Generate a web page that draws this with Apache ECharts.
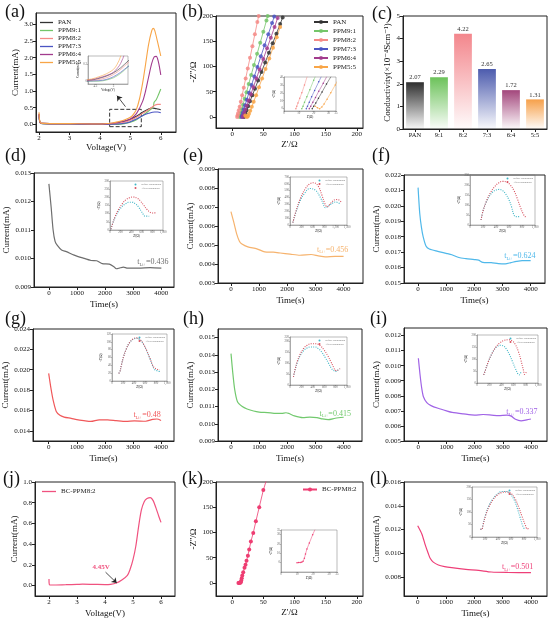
<!DOCTYPE html>
<html>
<head>
<meta charset="utf-8">
<script src="https://cdn.jsdelivr.net/npm/echarts@6/dist/echarts.min.js"></script>
<style>html,body{margin:0;padding:0;background:#fff}#chart{width:550px;height:621px}</style>
</head>
<body>
<div id="chart"></div>
<script>
const FONT = '"Liberation Serif","Times New Roman","DejaVu Serif",serif';

// (a) LSV curves
const lsvNames = ['PAN', 'PPM9:1', 'PPM8:2', 'PPM7:3', 'PPM6:4', 'PPM5:5'];
const lsvColors = ['#333333', '#74c569', '#f58a86', '#4b55c3', '#a23b8d', '#f8a547'];
const lsvPAN = [[2.0,0.3],[2.03,0.06],[2.1,0.03],[3,0.02],[4,0.01],[4.4,0.02],[4.6,0.05],[4.8,0.09],[5.0,0.15],[5.2,0.24],[5.4,0.36],[5.6,0.46],[5.7,0.49],[5.8,0.48],[5.9,0.46],[6.0,0.44]];
const lsv91 = [[2.0,0.25],[2.03,0.05],[2.1,0.02],[3,0.01],[4,0.0],[4.6,0.0],[4.8,0.02],[5.0,0.06],[5.2,0.14],[5.4,0.26],[5.6,0.4],[5.75,0.52],[5.78,0.66],[5.85,0.74],[5.92,0.88],[6.0,1.06]];
const lsv82 = [[2.0,0.3],[2.03,0.06],[2.1,0.03],[3,0.02],[4,0.01],[4.5,0.02],[4.8,0.06],[5.0,0.12],[5.2,0.21],[5.4,0.33],[5.6,0.44],[5.8,0.57],[5.9,0.6],[6.0,0.6]];
const lsv73 = [[2.0,0.28],[2.03,0.05],[2.1,0.02],[3,0.01],[4,0.0],[4.6,0.01],[4.8,0.03],[5.0,0.08],[5.2,0.16],[5.4,0.26],[5.6,0.33],[5.8,0.37],[5.9,0.37],[6.0,0.35]];
const lsv64 = [[2.0,0.32],[2.03,0.06],[2.1,0.03],[3,0.02],[4,0.01],[4.4,0.03],[4.6,0.06],[4.8,0.1],[5.0,0.16],[5.2,0.32],[5.4,0.68],[5.5,1.0],[5.6,1.42],[5.7,1.82],[5.78,2.02],[5.85,2.04],[5.92,1.88],[6.0,1.48]];
const lsv55 = [[2.0,0.36],[2.03,0.07],[2.1,0.03],[3,0.02],[4,0.01],[4.4,0.04],[4.6,0.08],[4.8,0.13],[5.0,0.21],[5.1,0.3],[5.2,0.45],[5.3,0.76],[5.4,1.22],[5.5,1.8],[5.6,2.4],[5.7,2.8],[5.75,2.88],[5.8,2.82],[5.9,2.45],[6.0,2.05]];
const lsvData = [lsvPAN, lsv91, lsv82, lsv73, lsv64, lsv55];

// (b) Nyquist plots
const eisPAN = [[19,0],[20,3],[21.4,7],[23.2,13],[25.6,21],[28.6,31],[32.4,43],[36.6,56],[41.6,72],[47,89],[53,108],[59,127],[65,146],[71,165],[77,184],[81,197]];
const eis91 = [[12,0],[12.8,3],[13.8,8],[15.4,15],[17.4,24],[20,36],[23,49],[26.5,65],[30.5,83],[35,103],[40,125],[45,147],[50,169],[55,191],[57,200]];
const eis82 = [[8,0],[8.6,3],[9.4,7],[10.6,13],[12,20],[13.8,30],[16,43],[18.6,58],[21.6,76],[25,96],[28.6,117],[32.4,140],[36.4,164],[40.4,188],[42.5,200]];
const eis73 = [[15,0],[15.8,3],[17,8],[18.6,15],[20.6,23],[23.4,34],[27,48],[31,63],[35.5,80],[40.5,99],[46,120],[52,142],[58,164],[64,186],[67.5,199]];
const eis64 = [[17,0],[18,3],[19.4,8],[21.2,14],[23.4,22],[26.4,32],[30,45],[34,59],[38.8,76],[44,94],[50,115],[56,136],[62,157],[68,178],[73,196]];
const eis55 = [[21,3],[22.5,1],[24,0],[25.5,2],[27,6],[29,12],[31.5,20],[34.5,30],[38.4,43],[43,59],[48,76],[53.5,95],[59.5,116],[65.5,137],[71.5,158],[77,178]];
const eisData = [eisPAN, eis91, eis82, eis73, eis64, eis55];

// (c) conductivity
const condCats = ['PAN', '9:1', '8:2', '7:3', '6:4', '5:5'];
const condValues = [2.07, 2.29, 4.22, 2.65, 1.72, 1.31];
const condColors = ['#2f2f2f', '#6cc25a', '#f3868c', '#4d5cae', '#a3477c', '#f6a04a'];

// (d)-(i),(l) polarization current vs time
const curD = [[0,0.01262],[80,0.0118],[150,0.0110],[220,0.0106],[300,0.01046],[450,0.0103],[620,0.01024],[900,0.01012],[1200,0.01002],[1500,0.00993],[1700,0.00992],[1900,0.00982],[2150,0.0098],[2300,0.00972],[2400,0.00964],[2500,0.00966],[2650,0.0097],[2800,0.00966],[3200,0.00966],[3600,0.00968],[4000,0.00966]];
const curE = [[0,0.00676],[100,0.0062],[200,0.0056],[300,0.0052],[390,0.00505],[600,0.0049],[920,0.0048],[1200,0.00464],[1500,0.00462],[1750,0.00458],[2100,0.00452],[2450,0.00446],[2850,0.0045],[3100,0.00443],[3350,0.00437],[3700,0.0044],[4000,0.0044]];
const curF = [[0,0.02118],[60,0.0195],[120,0.0186],[180,0.018],[280,0.0174],[400,0.0172],[700,0.01705],[1000,0.01692],[1200,0.01683],[1450,0.01665],[1700,0.01658],[2000,0.01652],[2150,0.01648],[2300,0.01634],[2600,0.01632],[2850,0.01626],[3100,0.01624],[3300,0.01632],[3500,0.0164],[3700,0.01645],[4000,0.01645]];
const curG = [[0,0.01965],[80,0.0182],[160,0.017],[270,0.0159],[400,0.01552],[550,0.01535],[800,0.01522],[1000,0.0151],[1250,0.015],[1500,0.01492],[1800,0.01508],[2100,0.01508],[2400,0.015],[2750,0.01492],[3050,0.01498],[3450,0.01494],[3700,0.01512],[3850,0.01516],[4000,0.01502]];
const curH = [[0,0.01407],[60,0.013],[130,0.012],[230,0.01128],[400,0.011],[570,0.01086],[800,0.01074],[1000,0.01068],[1300,0.01065],[1600,0.0106],[1800,0.0106],[1950,0.01064],[2050,0.0106],[2250,0.01046],[2550,0.01036],[2800,0.01038],[3050,0.01036],[3250,0.01028],[3450,0.01024],[3700,0.01032],[4000,0.01038]];
const curI = [[0,0.01049],[60,0.0094],[120,0.0085],[180,0.00794],[300,0.00755],[450,0.00735],[700,0.00717],[1000,0.007],[1200,0.0069],[1600,0.0068],[2000,0.00672],[2300,0.00676],[2600,0.00672],[2850,0.00668],[3150,0.00672],[3300,0.00665],[3450,0.00644],[3650,0.00634],[3850,0.0064],[4000,0.00646]];
const curL = [[0,0.01231],[150,0.0116],[260,0.01075],[370,0.01],[440,0.00958],[550,0.00925],[730,0.00901],[950,0.00888],[1200,0.00879],[1700,0.00865],[2150,0.00856],[2600,0.00842],[3200,0.00838],[4000,0.00837]];
const tLi = ['0.436', '0.456', '0.624', '0.48', '0.415', '0.337', '0.501'];

// inset Nyquist: before / after polarization
const nyqDB = [[20,5],[50,40],[100,80],[160,115],[220,140],[290,160],[360,170],[420,170],[480,160],[540,140],[590,115],[630,95],[660,85],[700,85],[740,84]];
const nyqDA = [[20,5],[50,40],[100,85],[160,125],[230,160],[300,185],[370,198],[440,202],[510,195],[580,175],[640,150],[700,125],[760,108],[800,104],[840,105],[880,104]];
const nyqEB = [[75,35],[150,175],[255,336],[375,455],[525,532],[675,504],[795,406],[870,315],[930,252],[1020,280],[1125,322],[1200,336],[1320,308]];
const nyqEA = [[75,35],[150,189],[270,385],[405,532],[525,602],[630,616],[750,560],[840,434],[915,315],[975,266],[1080,322],[1200,371],[1290,364],[1365,322]];
const nyqFB = [[170,25],[200,70],[250,115],[300,145],[350,165],[400,175],[450,178],[500,172],[550,155],[600,125],[640,90],[670,55],[700,42],[740,42],[770,42]];
const nyqFA = [[170,25],[200,70],[260,125],[320,165],[380,192],[440,210],[500,218],[560,215],[620,200],[680,170],[730,130],[780,85],[820,55],[850,42],[880,45]];
const nyqGB = [[120,20],[140,22],[170,40],[210,62],[260,82],[320,98],[390,107],[450,109],[510,105],[570,94],[630,77],[690,57],[740,38],[770,30],[820,26],[870,24]];
const nyqGA = [[120,20],[140,22],[170,40],[210,62],[260,82],[320,98],[390,108],[450,110],[510,106],[570,95],[630,78],[690,58],[740,40],[770,34],[820,30],[870,28]];
const nyqHB = [[60,37],[90,70],[130,105],[180,135],[240,158],[300,170],[360,174],[440,174],[500,166],[560,150],[620,125],[680,98],[730,75],[760,68],[800,62],[830,66],[870,75]];
const nyqHA = [[60,37],[90,72],[130,110],[180,142],[240,168],[300,182],[370,189],[460,189],[530,180],[600,160],[660,135],[720,105],[770,78],[790,68],[820,66],[860,72],[880,75]];
const nyqIB = [[110,34],[140,55],[180,85],[230,115],[280,138],[330,152],[380,157],[430,155],[480,142],[530,120],[580,90],[630,60],[670,38],[690,34],[710,40],[730,48]];
const nyqIA = [[110,34],[140,55],[190,92],[250,125],[310,150],[380,168],[450,178],[520,180],[580,175],[630,160],[680,130],[720,95],[760,55],[780,36],[800,42],[820,50]];
const nyqLB = [[130,32],[150,30],[170,50],[210,90],[260,125],[320,152],[390,172],[460,182],[530,182],[590,172],[650,148],[700,112],[740,78],[780,45],[810,30]];
const nyqLA = [[130,32],[150,30],[170,48],[210,86],[260,120],[320,148],[390,168],[460,178],[540,180],[610,172],[670,150],[720,118],[770,82],[820,48],[850,32],[870,34]];

// (j),(k) BC-PPM8:2
const bcLsv = [[2.0,0.065],[2.02,0.008],[2.1,0.006],[2.6,0.009],[3.0,0.012],[3.2,0.014],[3.6,0.012],[4.0,0.01],[4.2,0.013],[4.4,0.025],[4.6,0.055],[4.8,0.1],[4.9,0.16],[5.0,0.25],[5.1,0.38],[5.2,0.57],[5.3,0.73],[5.4,0.81],[5.5,0.84],[5.62,0.85],[5.72,0.82],[5.82,0.75],[5.92,0.67],[6.0,0.61]];
const bcEis = [[10,0],[11,0.1],[12,0.2],[13,0.4],[13.8,1.5],[14.6,4.6],[15.3,9.3],[16.2,14.6],[17.7,21],[19.8,30],[21.4,36],[23,44],[25.2,54],[27.3,66],[30,82],[33.8,99],[38,122],[43.4,150],[50,184],[54.5,202]];

const grid = [], xAxis = [], yAxis = [], series = [], legend = [], title = [];

function addGrid(r, inset) {
  grid.push({
    left: r[0], top: r[1], width: r[2], height: r[3], show: true,
    containLabel: false, outerBoundsMode: 'none',
    borderColor: inset ? '#777' : '#222', borderWidth: inset ? 0.5 : 1,
    backgroundColor: 'rgba(0,0,0,0)'
  });
  return grid.length - 1;
}

function makeAxis(idx, o, inset) {
  const lc = inset ? '#777' : '#222';
  return {
    type: o.type || 'value', gridIndex: idx, data: o.data,
    min: o.min, max: o.max, interval: o.interval, splitNumber: o.split,
    name: o.name || '', nameLocation: 'middle', nameGap: o.gap || 12,
    nameTextStyle: { fontFamily: FONT, fontSize: inset ? 3 : 9, color: '#111' },
    axisLine: { show: true, onZero: false, lineStyle: { color: lc, width: inset ? 0.5 : 1 } },
    axisTick: { show: true, inside: false, length: inset ? 1 : 3, alignWithLabel: true, lineStyle: { color: lc, width: inset ? 0.5 : 1 } },
    axisLabel: {
      fontFamily: FONT, fontSize: inset ? 3 : 7, color: inset ? '#666' : '#111', margin: inset ? 1 : 3,
      formatter: o.fmt, showMinLabel: o.hideMin ? false : null, showMaxLabel: o.hideMax ? false : null
    },
    splitLine: { show: false }
  };
}

function panel(r, xo, yo, inset) {
  const idx = addGrid(r, inset);
  xAxis.push(makeAxis(idx, xo, inset));
  yAxis.push(makeAxis(idx, yo, inset));
  return idx;
}

function addTitle(text, x, y) {
  title.push({ text, left: x, top: y, padding: 0, textStyle: { fontFamily: FONT, fontSize: 18, fontWeight: 'normal', color: '#111' } });
}

const f1 = v => v.toFixed(1);
const f3 = v => v.toFixed(3);
const f0 = v => String(Math.round(v));

// ---------- (a)
addTitle('(a)', 5, 3);
const ga = panel([36, 13, 140, 119],
  { min: 1.9, max: 6.5, split: 5, name: 'Voltage(V)', gap: 11, fmt: f0, hideMin: true, hideMax: true },
  { min: -0.23, max: 3.34, split: 7, name: 'Current(mA)', gap: 14, fmt: f1, hideMin: true, hideMax: true });
lsvNames.forEach((n, i) => {
  const s = {
    type: 'line', name: n, xAxisIndex: ga, yAxisIndex: ga, data: lsvData[i], symbol: 'none', smooth: 0.3,
    lineStyle: { color: lsvColors[i], width: 1.1 }, itemStyle: { color: lsvColors[i] }, z: 3
  };
  if (i === 0) {
    s.markArea = { silent: true, itemStyle: { color: 'rgba(0,0,0,0)', borderColor: '#333', borderWidth: 1, borderType: 'dashed' },
      data: [[{ coord: [4.32, -0.07] }, { coord: [5.36, 0.45] }]] };
    s.markLine = { silent: true, symbol: ['none', 'arrow'], symbolSize: 5, label: { show: false },
      lineStyle: { color: '#222', width: 0.8, type: 'solid' },
      data: [[{ coord: [4.84, 0.53] }, { coord: [4.56, 0.86] }]] };
  }
  series.push(s);
});
legend.push({ data: lsvNames, orient: 'vertical', left: 40, top: 19, icon: 'rect', itemWidth: 13, itemHeight: 1.3, itemGap: 1, padding: 0,
  textStyle: { fontFamily: FONT, fontSize: 7, color: '#222', lineHeight: 7 } });
const gai = panel([88, 56, 40, 28],
  { min: 4.3, max: 5.4, split: 2, name: 'Voltage(V)', gap: 4, hideMin: true, hideMax: true },
  { min: -0.05, max: 0.45, split: 2, name: 'Current(mA)', gap: 5, hideMin: true, hideMax: true }, true);
lsvNames.forEach((n, i) => series.push({ type: 'line', name: 'ia_' + n, xAxisIndex: gai, yAxisIndex: gai, data: lsvData[i],
  symbol: 'none', smooth: 0.3, lineStyle: { color: lsvColors[i], width: 0.6 }, z: 3 }));

// ---------- (b)
addTitle('(b)', 182, 3);
const gb = panel([216, 16, 147, 112],
  { min: -26, max: 210, split: 5, name: "Z'/Ω", gap: 12, fmt: f0, hideMin: true, hideMax: true },
  { min: -22, max: 200, split: 5, name: "-Z''/Ω", gap: 14, fmt: f0, hideMin: true });
lsvNames.forEach((n, i) => series.push({
  type: 'line', name: 'b_' + n, xAxisIndex: gb, yAxisIndex: gb, data: eisData[i], symbol: 'circle', symbolSize: 4,
  lineStyle: { color: lsvColors[i], width: 0.8 }, itemStyle: { color: lsvColors[i], opacity: 0.85 }, z: 3
}));
legend.push({ data: lsvNames.map(n => 'b_' + n), formatter: n => n.slice(2), orient: 'vertical', left: 313, top: 18,
  itemWidth: 14, itemHeight: 5, itemGap: 1, padding: 0, textStyle: { fontFamily: FONT, fontSize: 7, color: '#222', lineHeight: 8 } });
const gbi = panel([284, 77, 52, 34],
  { min: 0, max: 35, split: 4, name: "Z'(Ω)", gap: 4 },
  { min: -3, max: 40, split: 4, name: "-Z''(Ω)", gap: 5, hideMin: true }, true);
lsvNames.forEach((n, i) => series.push({ type: 'line', name: 'bi_' + n, xAxisIndex: gbi, yAxisIndex: gbi, data: eisData[i],
  symbol: 'circle', symbolSize: 1.5, lineStyle: { color: lsvColors[i], width: 0.5 }, itemStyle: { color: lsvColors[i] }, z: 3 }));

// ---------- (c)
addTitle('(c)', 372, 5);
const gc = panel([403, 16, 144, 113],
  { type: 'category', data: condCats },
  { min: 0, max: 5, interval: 1, name: 'Conductivity(×10⁻⁴Scm⁻¹)', gap: 8, fmt: f0 });
xAxis[gc].axisLabel.fontSize = 6.5;
series.push({
  type: 'bar', name: 'cond', xAxisIndex: gc, yAxisIndex: gc, barWidth: '74%',
  data: condValues.map((v, i) => ({ value: v, itemStyle: { color: new echarts.graphic.LinearGradient(0, 0, 0, 1,
    [{ offset: 0, color: condColors[i] }, { offset: 1, color: condColors[i] + '08' }]) } })),
  label: { show: true, position: 'top', distance: 1, fontFamily: FONT, fontSize: 6.5, color: '#333', formatter: p => p.value.toFixed(2) },
  z: 3
});

// ---------- time panels
const cyan = '#3fb5c6', red = '#d8505e';
const timePanels = [
  { lab: '(d)', lp: [5, 147], r: [34, 173, 140, 114], x: [-530, 4450], y: [0.009, 0.013], iv: 0.001, gap: 16, data: curD, c: '#6e6e6e', tp: [3700, 0.00988], ir: [110, 181, 53, 49], ix: [0, 1000], iy: [0, 300], b: nyqDB, a: nyqDA },
  { lab: '(e)', lp: [183, 147], r: [218, 169, 145, 114], x: [-460, 4690], y: [0.003, 0.009], iv: 0.001, gap: 17, data: curE, c: '#f6b36e', tp: [3610, 0.00475], ir: [290, 177, 57, 48], ix: [0, 1500], iy: [0, 700], b: nyqEB, a: nyqEA },
  { lab: '(f)', lp: [372, 147], r: [404, 175, 141, 108], x: [-500, 4510], y: [0.015, 0.022], iv: 0.001, gap: 18, data: curF, c: '#4fb8ea', tp: [3620, 0.01673], ir: [470, 175, 65, 50], ix: [0, 1000], iy: [0, 250], b: nyqFB, a: nyqFA },
  { lab: '(g)', lp: [5, 310], r: [33, 329, 141, 112], x: [-558, 4460], y: [0.013, 0.024], gap: 16, hideMin: true, data: curG, c: '#f0585a', tp: [3500, 0.01557], ir: [112, 334, 55, 47], ix: [0, 1000], iy: [0, 120], b: nyqGB, a: nyqGA },
  { lab: '(h)', lp: [183, 310], r: [218, 329, 144, 112], x: [-462, 4650], y: [0.009, 0.0155], iv: 0.001, gap: 18, hideMax: true, data: curH, c: '#72c96e', tp: [3700, 0.0106], ir: [290, 337, 57, 48], ix: [0, 1000], iy: [0, 220], b: nyqHB, a: nyqHA },
  { lab: '(i)', lp: [370, 310], r: [404, 328, 143, 113], x: [-510, 4570], y: [0.005, 0.0125], iv: 0.001, gap: 18, hideMax: true, data: curI, c: '#a063e6', tp: [3680, 0.0069], ir: [477, 335, 61, 48], ix: [0, 1000], iy: [0, 200], b: nyqIB, a: nyqIA },
  { lab: '(l)', lp: [370, 470], r: [404, 482, 143, 114], x: [-484, 4566], y: [0.0064, 0.016], gap: 18, hideMin: true, data: curL, c: '#ee3f78', tp: [3530, 0.00882], ir: [472, 487, 65, 50], ix: [0, 1000], iy: [0, 200], b: nyqLB, a: nyqLA }
];

timePanels.forEach((p, k) => {
  addTitle(p.lab, p.lp[0], p.lp[1]);
  const g = panel(p.r,
    { min: p.x[0], max: p.x[1], split: 5, name: 'Time(s)', gap: 13, fmt: f0, hideMin: true, hideMax: true },
    { min: p.y[0], max: p.y[1], interval: p.iv, split: 5, name: 'Current(mA)', gap: p.gap, fmt: f3, hideMin: p.hideMin, hideMax: p.hideMax });
  series.push({
    type: 'line', name: 'cur' + k, xAxisIndex: g, yAxisIndex: g, data: p.data, symbol: 'none', smooth: 0.25,
    lineStyle: { color: p.c, width: 1.2 }, z: 3,
    markPoint: {
      silent: true, symbol: 'circle', symbolSize: 0.1, itemStyle: { color: 'rgba(0,0,0,0)' },
      data: [{ coord: p.tp, label: { show: true, position: 'inside', formatter: '{t|t}{s|Li+}{t|=' + tLi[k] + '}',
        rich: { t: { fontFamily: FONT, fontSize: 8, color: p.c }, s: { fontFamily: FONT, fontSize: 4.5, color: p.c, padding: [5, 0, 0, 0] } } } }]
    }
  });
  const gi = panel(p.ir,
    { min: p.ix[0], max: p.ix[1], split: 5, name: "Z'(Ω)", gap: 4 },
    { min: p.iy[0], max: p.iy[1], split: 5, name: "-Z''(Ω)", gap: 6 }, true);
  series.push({ type: 'line', name: 'Before Polarization', xAxisIndex: gi, yAxisIndex: gi, data: p.b, symbol: 'none', smooth: 0.4,
    lineStyle: { color: cyan, width: 1.1, type: [1, 1.3] }, itemStyle: { color: cyan }, z: 3 });
  series.push({ type: 'line', name: 'After Polarization', xAxisIndex: gi, yAxisIndex: gi, data: p.a, symbol: 'none', smooth: 0.4,
    lineStyle: { color: red, width: 1.1, type: [1, 1.3] }, itemStyle: { color: red }, z: 3 });
  legend.push({ data: ['Before Polarization', 'After Polarization'], orient: 'vertical', right: 550 - (p.ir[0] + p.ir[2]) + 2, top: p.ir[1] + 2,
    icon: 'circle', itemWidth: 2, itemHeight: 2, itemGap: 0.5, padding: 0, textStyle: { fontFamily: FONT, fontSize: 2.5, color: '#555', lineHeight: 3 } });
});

// ---------- (j)
addTitle('(j)', 3, 470);
const gj = panel([35, 482, 140, 114],
  { min: 1.5, max: 6.5, split: 5, name: 'Voltage(V)', gap: 13, fmt: f0, hideMin: true, hideMax: true },
  { min: -0.1, max: 1.0, split: 5, name: 'Current(mA)', gap: 12, fmt: f1, hideMin: true });
series.push({
  type: 'line', name: 'BC-PPM8:2', xAxisIndex: gj, yAxisIndex: gj, data: bcLsv, symbol: 'none', smooth: 0.3,
  lineStyle: { color: '#f0527f', width: 1.2 }, itemStyle: { color: '#f0527f' }, z: 3,
  markLine: { silent: true, symbol: ['none', 'arrow'], symbolSize: 5, label: { show: false },
    lineStyle: { color: '#222', width: 0.8, type: 'solid' },
    data: [[{ coord: [4.02, 0.13] }, { coord: [4.42, 0.025] }]] },
  markPoint: { silent: true, symbol: 'circle', symbolSize: 0.1, itemStyle: { color: 'rgba(0,0,0,0)' },
    data: [{ coord: [3.86, 0.177], label: { show: true, position: 'inside', formatter: '4.45V', fontFamily: FONT, fontSize: 7, fontWeight: 'bold', color: '#f0527f' } }] }
});
legend.push({ data: ['BC-PPM8:2'], left: 42, top: 488, icon: 'rect', itemWidth: 14, itemHeight: 1.3, padding: 0,
  textStyle: { fontFamily: FONT, fontSize: 7, color: '#222' } });

// ---------- (k)
addTitle('(k)', 182, 470);
const gk = panel([216, 482, 147, 114],
  { min: -26, max: 210, split: 5, name: "Z'/Ω", gap: 12, fmt: f0, hideMin: true, hideMax: true },
  { min: -26, max: 200, split: 5, name: "-Z''/Ω", gap: 11, fmt: f0, hideMin: true });
series.push({ type: 'line', name: 'k_BC-PPM8:2', xAxisIndex: gk, yAxisIndex: gk, data: bcEis, symbol: 'circle', symbolSize: 4,
  lineStyle: { color: '#ee3d72', width: 0.8 }, itemStyle: { color: '#ee3d72' }, z: 3 });
legend.push({ data: ['k_BC-PPM8:2'], formatter: n => n.slice(2), left: 302, top: 486, itemWidth: 14, itemHeight: 5, padding: 0,
  textStyle: { fontFamily: FONT, fontSize: 7, color: '#222' } });
const gki = panel([281, 530, 56, 42],
  { min: 0, max: 35, split: 4, name: "Z'(Ω)", gap: 4 },
  { min: -10, max: 35, split: 4, name: "-Z''(Ω)", gap: 5, hideMin: true }, true);
series.push({ type: 'line', name: 'ki', xAxisIndex: gki, yAxisIndex: gki, data: bcEis, symbol: 'circle', symbolSize: 1.5,
  lineStyle: { color: '#ee3d72', width: 0.5 }, itemStyle: { color: '#ee3d72' }, z: 3 });

const chart = echarts.init(document.getElementById('chart'), null, { renderer: 'canvas' });
chart.setOption({
  backgroundColor: '#fff',
  animation: false,
  title, grid, xAxis, yAxis, legend, series
});
</script>
</body>
</html>
